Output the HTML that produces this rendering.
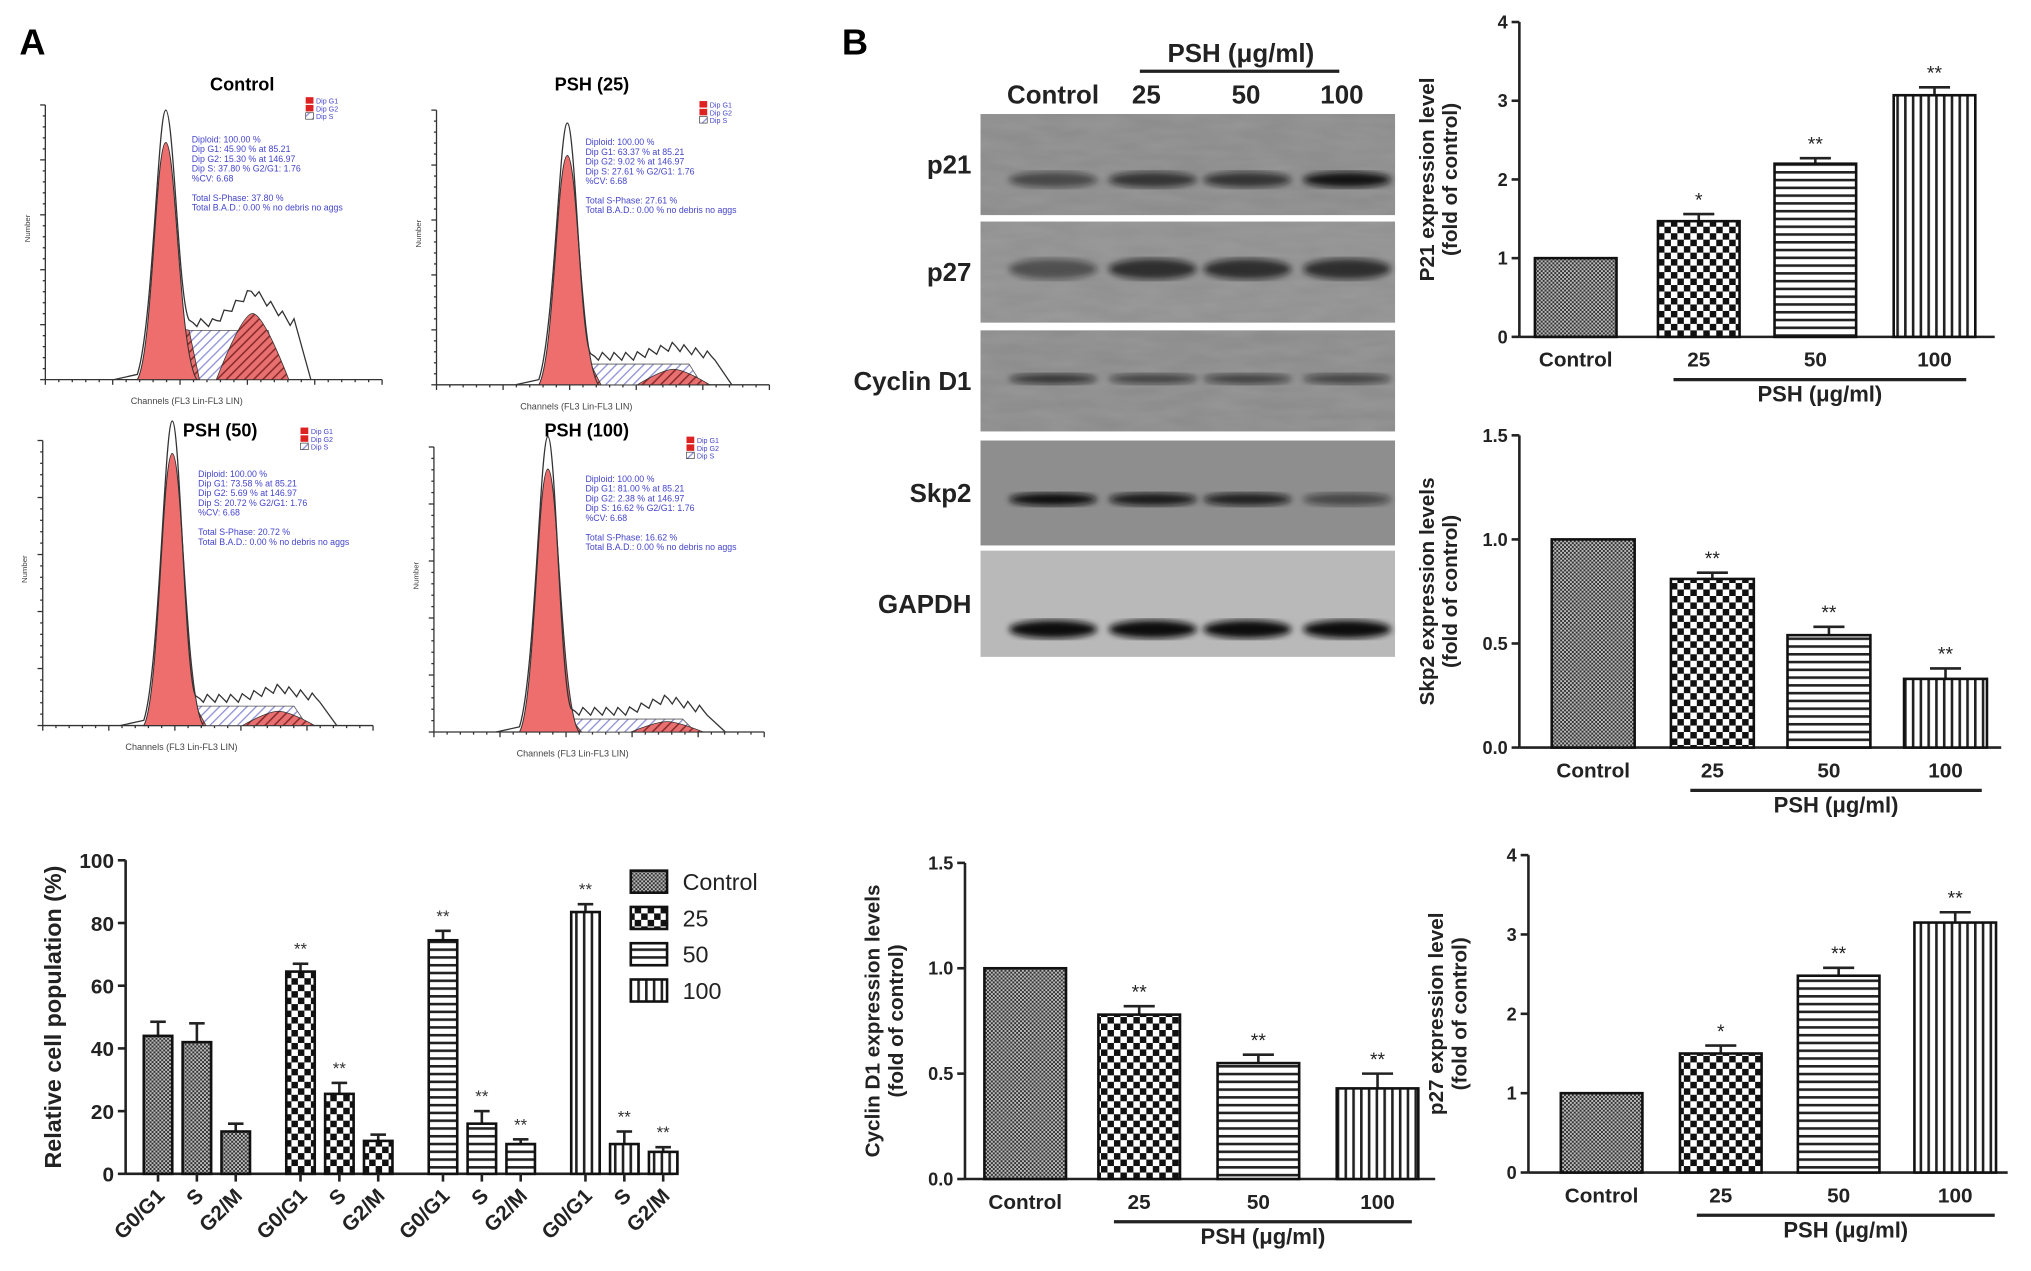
<!DOCTYPE html>
<html><head><meta charset="utf-8">
<style>
html,body{margin:0;padding:0;background:#fff;}
svg{display:block;font-family:"Liberation Sans",Arial,sans-serif;}
</style></head>
<body>
<svg id="fig" xmlns="http://www.w3.org/2000/svg" width="2031" height="1271" viewBox="0 0 1568 981" preserveAspectRatio="none">
<defs>
<pattern id="pCtrl" width="3" height="3" patternUnits="userSpaceOnUse"><rect width="3" height="3" fill="#bbb"/><rect width="1.5" height="1.5" fill="#333"/><rect x="1.5" y="1.5" width="1.5" height="1.5" fill="#333"/></pattern>
<pattern id="p25" width="10" height="10" patternUnits="userSpaceOnUse"><rect width="10" height="10" fill="#fff"/><rect width="5" height="5" fill="#111"/><rect x="5" y="5" width="5" height="5" fill="#111"/></pattern>
<pattern id="p50" width="6" height="6" patternUnits="userSpaceOnUse"><rect width="6" height="6" fill="#fff"/><rect y="0" width="6" height="2" fill="#222"/></pattern>
<pattern id="p100" width="6" height="6" patternUnits="userSpaceOnUse"><rect width="6" height="6" fill="#fff"/><rect x="0" width="2" height="6" fill="#222"/></pattern>
<pattern id="hatchR" width="5" height="5" patternUnits="userSpaceOnUse" patternTransform="rotate(45)"><rect width="5" height="5" fill="#e87070"/><rect width="1.2" height="5" fill="#8a2a2a"/></pattern>
<pattern id="hatchB" width="5" height="5" patternUnits="userSpaceOnUse" patternTransform="rotate(45)"><rect width="5" height="5" fill="#fff"/><rect width="1" height="5" fill="#8d8fd6"/></pattern>
<filter id="blur2"><feGaussianBlur stdDeviation="2.5"/></filter>
<filter id="noise" x="0" y="0" width="1" height="1"><feTurbulence type="fractalNoise" baseFrequency="0.03 0.12" numOctaves="2" seed="3"/><feColorMatrix type="matrix" values="0 0 0 0 0.5  0 0 0 0 0.5  0 0 0 0 0.5  0 0 0 0.35 0"/></filter>
</defs>
<text x="15" y="42" font-size="28" font-weight="bold">A</text>
<text x="650" y="42" font-size="28" font-weight="bold">B</text>
<g id="hist"></g>
<g id="cellchart"></g>
<g id="blot"></g>
<g id="p21chart"></g>
<g id="skp2chart"></g>
<g id="cycchart"></g>
<g id="p27chart"></g>
</svg>
<script>
// ---- data ----
const phaseCats = ["G0/G1","S","G2/M"];
const groupNames = ["Control","25","50","100"];
const cellVals = [[44,42,13.5],[64.5,25.5,10.5],[74.5,16,9.5],[83.5,9.5,7]];
const cellErr = [[4.5,6,2.5],[2.5,3.5,2],[3,4,1.5],[2.5,4,1.5]];
const cellStars = [["","",""],["**","**",""],["**","**","**"],["**","**","**"]];
const doseCats = ["Control","25","50","100"];
const p21Vals = [1,1.47,2.2,3.07];
const p21Err = [0,0.09,0.07,0.1];
const p21Stars = ["","*","**","**"];
const p21Ticks = [0,1,2,3,4];
const skp2Vals = [1,0.81,0.54,0.33];
const skp2Err = [0,0.03,0.04,0.05];
const skp2Stars = ["","**","**","**"];
const skp2Ticks = [0,0.5,1.0,1.5];
const cycVals = [1,0.78,0.55,0.43];
const cycErr = [0,0.04,0.04,0.07];
const cycStars = ["","**","**","**"];
const cycTicks = [0,0.5,1.0,1.5];
const p27Vals = [1,1.5,2.48,3.15];
const p27Err = [0,0.1,0.1,0.13];
const p27Stars = ["","*","**","**"];
const p27Ticks = [0,1,2,3,4];
const histTitles = ["Control","PSH (25)","PSH (50)","PSH (100)"];
const histG1 = [45.90,63.37,73.58,81.00];
const histG2 = [15.30,9.02,5.69,2.38];
const histS = [37.80,27.61,20.72,16.62];

const NS="http://www.w3.org/2000/svg";
const patterns=["url(#pCtrl)","url(#p25)","url(#p50)","url(#p100)"];
function el(tag,attrs,parent){const e=document.createElementNS(NS,tag);for(const k in attrs)e.setAttribute(k,attrs[k]);if(parent)parent.appendChild(e);return e;}
function txt(s,attrs,parent){const e=el("text",attrs,parent);e.textContent=s;return e;}

// ---- histograms ----
const hist=document.getElementById("hist");
const panels=[{ox:35,oy:293,w:260,h:212,px:128,py:85,sy:255,gx:195,gy:242,t:[187,70],ix:148,iy:110,lx:236,ly:75},
{ox:337,oy:297,w:257,h:212,px:438,py:95,sy:281,gx:520,gy:285,t:[457,70],ix:452,iy:112,lx:540,ly:78},
{ox:33,oy:560,w:255,h:220,px:133,py:325,sy:545,gx:215,gy:549,t:[170,337],ix:153,iy:368,lx:232,ly:330},
{ox:335,oy:565,w:255,h:220,px:423,py:337,sy:555,gx:515,gy:557,t:[453,337],ix:452,iy:372,lx:530,ly:337}];
panels.forEach((p,i)=>{
  const g=el("g",{},hist);
  
  
  const t=txt(histTitles[i],{x:p.t[0],y:p.t[1],"font-size":14,"font-weight":"bold","text-anchor":"middle"},g);
  
  
  el("line",{x1:p.ox,y1:p.oy,x2:p.ox+p.w,y2:p.oy,stroke:"#333","stroke-width":1},g);
  el("line",{x1:p.ox,y1:p.oy,x2:p.ox,y2:p.oy-p.h,stroke:"#333","stroke-width":1},g);
  for(let k=0;k<=25;k++){const x=p.ox+k*p.w/25;el("line",{x1:x,y1:p.oy,x2:x,y2:p.oy+(k%5?2:4),stroke:"#333"},g);}
  for(let k=0;k<=25;k++){const y=p.oy-k*p.h/25;el("line",{x1:p.ox,y1:y,x2:p.ox-(k%5?2:4),y2:y,stroke:"#333"},g);}
  txt("Channels (FL3 Lin-FL3 LIN)",{x:p.ox+p.w*0.42,y:p.oy+19,"font-size":7,fill:"#444","text-anchor":"middle"},g);
  txt("Number",{x:0,y:0,"font-size":6,fill:"#444",transform:`translate(${p.ox-12},${p.oy-p.h/2}) rotate(-90)`},g);
  const sx0=p.px+15,sx1=p.gx+12;
  el("path",{d:`M${p.px+5},${p.oy} L${sx0},${p.sy} L${sx1},${p.sy} L${sx1+10},${p.oy} Z`,fill:"url(#hatchB)",stroke:"#555","stroke-width":0.6},g);
  el("path",{d:`M${p.gx-28},${p.oy} Q${p.gx-8},${p.gy} ${p.gx},${p.gy} Q${p.gx+8},${p.gy} ${p.gx+28},${p.oy} Z`,fill:"url(#hatchR)",stroke:"#333","stroke-width":0.6},g);
  el("path",{d:`M${p.px-5},${p.oy} Q${p.px+8},${p.sy-5} ${p.px+18},${p.sy} L${p.px+26},${p.oy} Z`,fill:"url(#hatchR)",stroke:"#333","stroke-width":0.6},g);
  const ry=p.py+25;
  el("path",{d:`M${p.px-22},${p.oy} C${p.px-10},${p.oy-20} ${p.px-8},${ry} ${p.px},${ry} C${p.px+8},${ry} ${p.px+10},${p.oy-20} ${p.px+24},${p.oy} Z`,fill:"#ee6e6e",stroke:"#333","stroke-width":0.8},g);
  let d=`M${p.px-40},${p.oy} L${p.px-22},${p.oy-4} C${p.px-10},${p.oy-40} ${p.px-6},${p.py} ${p.px},${p.py} C${p.px+6},${p.py} ${p.px+10},${p.sy-20} ${p.px+18},${p.sy-8}`;
  let x=p.px+18;let jj=0;
  while(x<p.gx+30){x+=3;jj++;const base=p.sy-6-Math.max(0,(1-Math.abs(x-p.gx)/30))*(p.sy-p.gy+12);d+=` L${x},${base+((jj%3)-1)*3}`;}
  d+=` L${p.gx+45},${p.oy}`;
  el("path",{d:d,fill:"none",stroke:"#333","stroke-width":1},g);
  el("rect",{x:p.lx,y:p.ly,width:6,height:5,fill:"#d22"},g);
  el("rect",{x:p.lx,y:p.ly+6,width:6,height:5,fill:"#d22"},g);
  el("rect",{x:p.lx,y:p.ly+12,width:6,height:5,fill:"url(#hatchB)",stroke:"#333","stroke-width":0.5},g);
  ["Dip G1","Dip G2","Dip S"].forEach((s,k)=>txt(s,{x:p.lx+8,y:p.ly+5+k*6,"font-size":5.5,fill:"#44c"},g));
  const info=["Diploid: 100.00 %",`   Dip G1: ${histG1[i].toFixed(2)} % at 85.21`,`   Dip G2: ${histG2[i].toFixed(2)} % at 146.97`,`   Dip S: ${histS[i].toFixed(2)} %   G2/G1: 1.76`,"   %CV: 6.68","",`Total S-Phase: ${histS[i].toFixed(2)} %`,"Total B.A.D.: 0.00 %   no debris no aggs"];
  info.forEach((s,k)=>txt(s,{x:p.ix,y:p.iy+k*7.5,"font-size":6.8,fill:"#44c","xml:space":"preserve"},g));
});

// ---- cell population chart ----
(function(){
  const g=document.getElementById("cellchart");
  
  
  const x0=97,y0=906,yTop=664,xEnd=520;
  const ys=v=>y0-(v/100)*(y0-yTop);
  const xs=(gi,ci)=>122+gi*110+ci*30;
  el("line",{x1:x0,y1:y0,x2:xEnd,y2:y0,stroke:"#222","stroke-width":2},g);
  el("line",{x1:x0,y1:y0,x2:x0,y2:yTop,stroke:"#222","stroke-width":2},g);
  [0,20,40,60,80,100].forEach(v=>{el("line",{x1:x0-6,y1:ys(v),x2:x0,y2:ys(v),stroke:"#222","stroke-width":2},g);txt(String(v),{x:x0-9,y:ys(v)+6,"font-size":16,"font-weight":"bold","text-anchor":"end",fill:"#222"},g);});
  txt("Relative cell population (%)",{x:0,y:0,"font-size":18,"font-weight":"bold","text-anchor":"middle",transform:`translate(47,${(y0+yTop)/2}) rotate(-90)`,fill:"#222"},g);
  cellVals.forEach((grp,gi)=>grp.forEach((v,ci)=>{
    const cx=xs(gi,ci),w=22;
    el("line",{x1:cx,y1:ys(v),x2:cx,y2:ys(v+cellErr[gi][ci]),stroke:"#222","stroke-width":2},g);
    el("line",{x1:cx-6,y1:ys(v+cellErr[gi][ci]),x2:cx+6,y2:ys(v+cellErr[gi][ci]),stroke:"#222","stroke-width":2},g);
    const r=el("rect",{x:cx-w/2,y:ys(v),width:w,height:y0-ys(v),fill:patterns[gi],stroke:"#111","stroke-width":2},g);
    
    
    el("line",{x1:cx,y1:y0,x2:cx,y2:y0+6,stroke:"#222","stroke-width":2},g);
    if(cellStars[gi][ci])txt(cellStars[gi][ci],{x:cx,y:ys(v+cellErr[gi][ci])-7,"font-size":13,"text-anchor":"middle",fill:"#333"},g);
    txt(phaseCats[ci],{x:0,y:0,"font-size":16,"font-weight":"bold","text-anchor":"end",fill:"#222",transform:`translate(${cx+6},${y0+18}) rotate(-45)`},g);
  }));
  groupNames.forEach((n,i)=>{
    const y=672+i*28;
    const r=el("rect",{x:487,y:y,width:28,height:17,fill:patterns[i],stroke:"#111","stroke-width":2},g);
    
    
    txt(n,{x:527,y:y+15,"font-size":18,fill:"#222"},g);
  });
})();

// ---- western blot ----
(function(){
  const g=document.getElementById("blot");
  
  
  const rows=[{n:"p21",y:88,h:78,bg:"#8a8a8a",band:[0.55,0.7,0.7,0.95],by:0.65,bh:6},
    {n:"p27",y:171,h:78,bg:"#8f8f8f",band:[0.5,0.75,0.75,0.75],by:0.47,bh:8},
    {n:"Cyclin D1",y:255,h:78,bg:"#8a8a8a",band:[0.7,0.6,0.6,0.6],by:0.48,bh:4},
    {n:"Skp2",y:340,h:81,bg:"#8e8e8e",band:[1,0.9,0.85,0.55],by:0.56,bh:5},
    {n:"GAPDH",y:425,h:82,bg:"#b9b9b9",band:[1,1,1,1],by:0.74,bh:7}];
  const x0=757,w=320;
  const lanes=[813,890,963,1040];
  rows.forEach(r=>{
    el("rect",{x:x0,y:r.y,width:w,height:r.h,fill:r.bg},g);
    if(r.n!=="Skp2"&&r.n!=="GAPDH")el("rect",{x:x0,y:r.y,width:w,height:r.h,filter:"url(#noise)",opacity:0.8},g);
    r.band.forEach((b,i)=>el("ellipse",{cx:lanes[i],cy:r.y+r.h*r.by,rx:34,ry:r.bh,fill:"#111",opacity:b,filter:"url(#blur2)"},g));
    const t=txt(r.n,{x:750,y:r.y+r.h/2+7,"font-size":20,"font-weight":"bold","text-anchor":"end",fill:"#222"},g);
    
    
  });
  ["Control","25","50","100"].forEach((s,i)=>txt(s,{x:[813,885,962,1036][i],y:80,"font-size":20,"font-weight":"bold","text-anchor":"middle",fill:"#222"},g));
  el("line",{x1:880,y1:55,x2:1034,y2:55,stroke:"#222","stroke-width":2.5},g);
  txt("PSH (μg/ml)",{x:958,y:48,"font-size":20,"font-weight":"bold","text-anchor":"middle",fill:"#222"},g);
})();

// ---- dose bar charts ----
function doseChart(id,name,cfg,vals,errs,stars,ticks,title){
  const g=document.getElementById(id);
  
  
  const {ax,y0,yTop,max,xEnd,bx,bw,lblY,lineX1,lineX2,fmt}=cfg;
  const ys=v=>y0-(v/max)*(y0-yTop);
  el("line",{x1:ax,y1:y0,x2:xEnd,y2:y0,stroke:"#222","stroke-width":2},g);
  el("line",{x1:ax,y1:y0,x2:ax,y2:yTop,stroke:"#222","stroke-width":2},g);
  ticks.forEach(v=>{el("line",{x1:ax-6,y1:ys(v),x2:ax,y2:ys(v),stroke:"#222","stroke-width":2},g);txt(fmt(v),{x:ax-9,y:ys(v)+5,"font-size":14,"font-weight":"bold","text-anchor":"end",fill:"#222"},g);});
  vals.forEach((v,i)=>{
    const x=bx[i],cx=x+bw/2,e=errs[i];
    if(e>0){el("line",{x1:cx,y1:ys(v),x2:cx,y2:ys(v+e),stroke:"#222","stroke-width":2},g);el("line",{x1:cx-12,y1:ys(v+e),x2:cx+12,y2:ys(v+e),stroke:"#222","stroke-width":2},g);}
    const r=el("rect",{x:x,y:ys(v),width:bw,height:y0-ys(v),fill:patterns[i],stroke:"#111","stroke-width":2},g);
    
    
    if(stars[i])txt(stars[i],{x:cx,y:ys(v+e)-6,"font-size":15,"text-anchor":"middle",fill:"#222"},g);
    txt(doseCats[i],{x:cx,y:lblY,"font-size":16,"font-weight":"bold","text-anchor":"middle",fill:"#222"},g);
  });
  el("line",{x1:lineX1,y1:lblY+10,x2:lineX2,y2:lblY+10,stroke:"#222","stroke-width":2.5},g);
  txt("PSH (μg/ml)",{x:(lineX1+lineX2)/2,y:lblY+27,"font-size":17,"font-weight":"bold","text-anchor":"middle",fill:"#222"},g);
  const tx=ax-48;
  txt(title[0],{x:0,y:0,"font-size":16,"font-weight":"bold","text-anchor":"middle",fill:"#222",transform:`translate(${tx-18},${(y0+yTop)/2}) rotate(-90)`},g);
  txt(title[1],{x:0,y:0,"font-size":16,"font-weight":"bold","text-anchor":"middle",fill:"#222",transform:`translate(${tx},${(y0+yTop)/2}) rotate(-90)`},g);
}
const intFmt=v=>String(v), decFmt=v=>v.toFixed(1);
doseChart("p21chart","p21-chart",{ax:1173,y0:260,yTop:17,max:4,xEnd:1540,bx:[1185,1280,1370,1462],bw:63,lblY:283,lineX1:1292,lineX2:1518,fmt:intFmt},p21Vals,p21Err,p21Stars,p21Ticks,["P21 expression level","(fold of control)"]);
doseChart("skp2chart","skp2-chart",{ax:1173,y0:577,yTop:336,max:1.5,xEnd:1545,bx:[1198,1290,1380,1470],bw:64,lblY:600,lineX1:1305,lineX2:1530,fmt:decFmt},skp2Vals,skp2Err,skp2Stars,skp2Ticks,["Skp2 expression levels","(fold of control)"]);
doseChart("cycchart","cyclin-d1-chart",{ax:745,y0:910,yTop:666,max:1.5,xEnd:1108,bx:[760,848,940,1032],bw:63,lblY:933,lineX1:860,lineX2:1090,fmt:decFmt},cycVals,cycErr,cycStars,cycTicks,["Cyclin D1 expression levels","(fold of control)"]);
doseChart("p27chart","p27-chart",{ax:1180,y0:905,yTop:660,max:4,xEnd:1550,bx:[1205,1297,1388,1478],bw:63,lblY:928,lineX1:1310,lineX2:1540,fmt:intFmt},p27Vals,p27Err,p27Stars,p27Ticks,["p27 expression level","(fold of control)"]);
</script>
</body></html>
